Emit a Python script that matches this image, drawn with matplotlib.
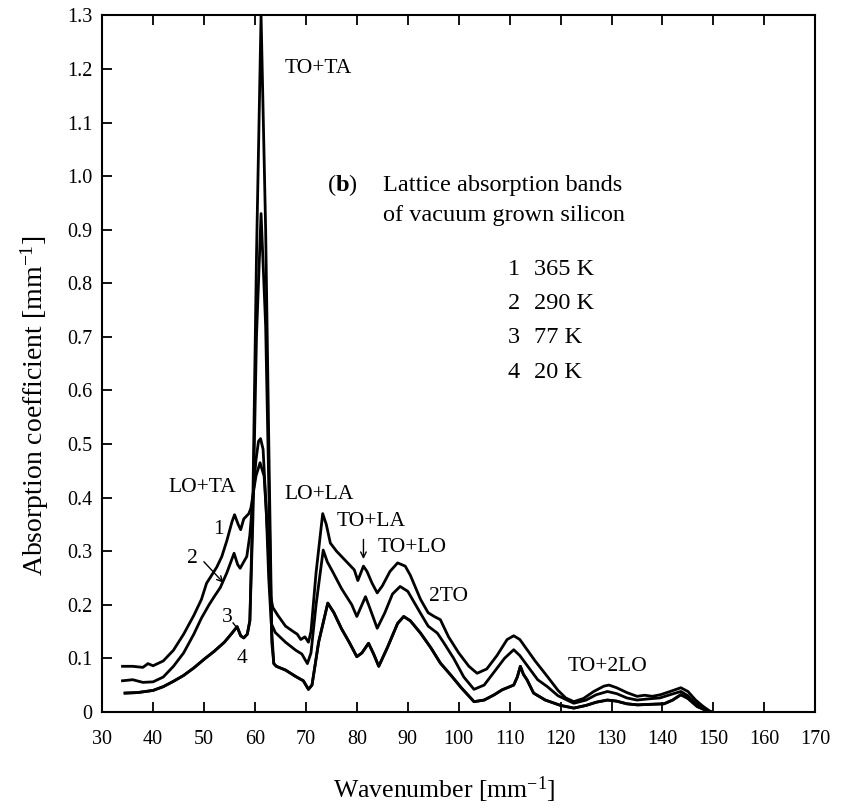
import matplotlib
matplotlib.use("Agg")
import matplotlib.pyplot as plt

plt.rcParams['font.family'] = ['Liberation Serif', 'DejaVu Serif']
plt.rcParams['mathtext.fontset'] = 'custom'
plt.rcParams['mathtext.rm'] = 'Liberation Serif'
plt.rcParams['mathtext.it'] = 'Liberation Serif:italic'
plt.rcParams['mathtext.bf'] = 'Liberation Serif:bold'

# ---- data ----
x1 = [34, 36, 38, 39, 40, 42, 44, 46, 48, 49.5, 50.5, 51.5, 52.5, 53.5, 54.5, 55.5, 56, 56.7, 57.2, 57.8,
      58.3, 58.8, 59.2, 60.2, 61.0, 61.8, 62.5, 63.0, 63.5, 64.5, 66, 67.5, 68.3, 69, 69.8, 70.5, 71, 72,
      73.3, 74, 74.8, 76, 78, 79.5, 80.2, 81.3, 82, 83, 84, 85, 86.5, 88, 89.5, 90.5, 92.5, 94, 95.2, 96.4,
      98, 100, 102, 103.6, 105.5, 107.5, 109.5, 110.8, 112, 113.5, 115, 117.4, 119.5, 121, 122.6, 124.5,
      126.5, 128.5, 129.5, 131, 133, 135, 136.5, 138, 139.6, 141.5, 143.6, 145, 146.5, 148, 149.5]
y1 = [0.085, 0.085, 0.083, 0.09, 0.086, 0.095, 0.115, 0.145, 0.18, 0.21, 0.24, 0.255, 0.27, 0.29, 0.32, 0.355,
      0.368, 0.35, 0.34, 0.36, 0.365, 0.37, 0.38, 0.44, 0.465, 0.44, 0.33, 0.22, 0.195, 0.18, 0.16, 0.15, 0.145,
      0.135, 0.14, 0.13, 0.15, 0.26, 0.37, 0.35, 0.315, 0.30, 0.28, 0.265, 0.245, 0.272, 0.262, 0.24, 0.222,
      0.235, 0.262, 0.278, 0.272, 0.255, 0.21, 0.185, 0.178, 0.172, 0.14, 0.11, 0.085, 0.072, 0.08, 0.105,
      0.135, 0.142, 0.135, 0.115, 0.095, 0.066, 0.04, 0.026, 0.019, 0.025, 0.038, 0.048, 0.05, 0.045, 0.036,
      0.029, 0.031, 0.029, 0.032, 0.038, 0.045, 0.038, 0.022, 0.01, 0.0]

x2 = [34, 36, 38, 40, 42, 44, 46, 48, 49.5, 51, 52, 53.2, 54.5, 55.9, 56.6, 57.1, 57.8, 58.4, 59.0, 59.6,
      60.2, 60.7, 61.1, 61.6, 62.2, 62.7, 63.2, 64, 66, 68, 69.2, 70.3, 71, 72, 73.4, 74.2, 75.4, 77, 79, 80,
      81.7, 82.5, 84, 85.5, 87, 88.5, 90, 92.5, 94, 95.8, 97, 99, 101, 103, 105, 107, 109, 110.8, 112, 114.1,
      115.5, 117.4, 119.5, 122.6, 125, 127, 129.2, 131, 133, 135, 137, 139.5, 141.5, 143.6, 145, 146.5, 148,
      149.5]
y2 = [0.058, 0.06, 0.055, 0.056, 0.065, 0.085, 0.11, 0.145, 0.175, 0.2, 0.215, 0.232, 0.26, 0.296, 0.275,
      0.268, 0.28, 0.29, 0.33, 0.40, 0.47, 0.505, 0.51, 0.49, 0.38, 0.25, 0.165, 0.148, 0.13, 0.115, 0.108,
      0.09, 0.11, 0.2, 0.302, 0.28, 0.259, 0.23, 0.2, 0.178, 0.215, 0.195, 0.156, 0.185, 0.22, 0.234, 0.225,
      0.184, 0.16, 0.147, 0.13, 0.1, 0.065, 0.042, 0.05, 0.075, 0.1, 0.116, 0.105, 0.078, 0.06, 0.047, 0.03,
      0.016, 0.022, 0.032, 0.038, 0.034, 0.026, 0.022, 0.024, 0.026, 0.032, 0.038, 0.03, 0.016, 0.006, 0.0]

x4 = [34.5, 37, 40, 42, 44, 46, 48, 50, 52, 54, 55.5, 56.5, 57.2, 57.8, 58.5, 59.0, 59.6, 60.3, 61.2, 62.1,
      62.8, 63.3, 63.7, 64.2, 66, 68, 69.5, 70.5, 71.2, 72.5, 74.3, 75.5, 77, 78.5, 80, 81, 82.3, 83.3, 84.3,
      86, 88, 89.2, 90.5, 92.5, 94.5, 96.4, 98.5, 100.5, 103, 105, 107, 108.5, 110.8, 111.5, 112.1, 112.7,
      113.4, 114.7, 117, 120, 122.6, 125, 127, 129.2, 131, 133, 135.1, 137.5, 140.3, 142, 143.6, 145, 146.8,
      148.5, 149.5]
y4 = [0.035, 0.036, 0.04, 0.047, 0.057, 0.068, 0.082, 0.098, 0.113, 0.13, 0.147, 0.159, 0.142, 0.138, 0.145,
      0.17, 0.40, 0.85, 1.30, 0.90, 0.45, 0.15, 0.09, 0.085, 0.078, 0.066, 0.058, 0.042, 0.05, 0.13, 0.203,
      0.185, 0.155, 0.13, 0.103, 0.11, 0.128, 0.108, 0.085, 0.12, 0.165, 0.178, 0.17, 0.147, 0.12, 0.091,
      0.068, 0.045, 0.019, 0.022, 0.032, 0.041, 0.05, 0.065, 0.085, 0.07, 0.06, 0.035, 0.022, 0.012, 0.007,
      0.012, 0.018, 0.022, 0.02, 0.015, 0.013, 0.014, 0.015, 0.022, 0.032, 0.025, 0.01, 0.003, 0.0]

# curve 3 coincides with curve 4 except at the main TO+TA peak
x3 = x4
y3 = [0.035, 0.036, 0.04, 0.047, 0.057, 0.068, 0.082, 0.098, 0.113, 0.13, 0.147, 0.159, 0.142, 0.138, 0.145,
      0.17, 0.36, 0.70, 0.93, 0.72, 0.38, 0.13, 0.09] + y4[23:]

curves_x = [x1, x2, x3, x4]
curves_y = [y1, y2, y3, y4]

xticks = list(range(30, 171, 10))
yticks = [0, 0.1, 0.2, 0.3, 0.4, 0.5, 0.6, 0.7, 0.8, 0.9, 1.0, 1.1, 1.2, 1.3]
ytick_labels = ['0', '0.1', '0.2', '0.3', '0.4', '0.5', '0.6', '0.7', '0.8', '0.9', '1.0', '1.1', '1.2', '1.3']

legend_nums = ['1', '2', '3', '4']
legend_temps = ['365 K', '290 K', '77 K', '20 K']

band_labels = ['TO+TA', 'LO+TA', 'LO+LA', 'TO+LA', 'TO+LO', '2TO', 'TO+2LO']
band_pos = [(72.4, 1.20), (49.65, 0.418), (72.6, 0.405), (82.85, 0.356), (90.9, 0.306), (98.0, 0.215),
            (129.2, 0.084)]

# ---- figure ----
fig = plt.figure(figsize=(8.44, 8.08), dpi=100)
ax = fig.add_axes([0.121, 0.119, 0.845, 0.862])

for xs, ys in zip(curves_x, curves_y):
    ax.plot(xs, ys, color='black', lw=2.0, solid_joinstyle='round')

ax.set_xlim(30, 170)
ax.set_ylim(0, 1.3)
ax.set_xticks(xticks)
ax.set_xticklabels([str(t) for t in xticks])
ax.set_yticks(yticks)
ax.set_yticklabels(ytick_labels)
ax.tick_params(axis='both', direction='in', labelsize=14.5, width=1.3, length=7, color='black')
ax.tick_params(axis='x', pad=13, top=True)
ax.tick_params(axis='y', pad=7, right=False)
for s in ax.spines.values():
    s.set_linewidth(1.5)

ax.text(-0.094, 0.44, r'Absorption coefficient [mm$^{-1}$]', transform=ax.transAxes, rotation=90,
        ha='center', va='center', fontsize=20)
ax.text(0.48, -0.112, r'Wavenumber [mm$^{-1}$]', transform=ax.transAxes,
        ha='center', va='center', fontsize=18.5)

for lab, (bx, by) in zip(band_labels, band_pos):
    ax.text(bx, by, lab, ha='center', va='center', fontsize=15.5)

# curve numbers
ax.text(52.8, 0.34, '1', ha='center', va='center', fontsize=15.5)
ax.text(47.7, 0.287, '2', ha='center', va='center', fontsize=15.5)
ax.text(54.6, 0.177, '3', ha='center', va='center', fontsize=15.5)
ax.text(57.5, 0.10, '4', ha='center', va='center', fontsize=15.5)
ax.annotate('', xy=(54.2, 0.237), xytext=(49.6, 0.284),
            arrowprops=dict(arrowstyle='->', lw=1.0, color='black'))
ax.plot([55.7, 56.2], [0.166, 0.160], color='black', lw=1.0)
ax.annotate('', xy=(81.3, 0.28), xytext=(81.3, 0.327),
            arrowprops=dict(arrowstyle='->', lw=1.0, color='black'))

# description block
ax.text(77.2, 0.983, r'($\mathbf{b}$)', ha='center', va='center', fontsize=17.5)
ax.text(85.2, 0.983, 'Lattice absorption bands', ha='left', va='center', fontsize=17.5)
ax.text(85.2, 0.927, 'of vacuum grown silicon', ha='left', va='center', fontsize=17.5)
leg_y = [0.825, 0.763, 0.698, 0.634]
for n, t, yy in zip(legend_nums, legend_temps, leg_y):
    ax.text(109.6, yy, n, ha='left', va='center', fontsize=17.5)
    ax.text(114.7, yy, t, ha='left', va='center', fontsize=17.5)

fig.savefig('out.png', dpi=100)
